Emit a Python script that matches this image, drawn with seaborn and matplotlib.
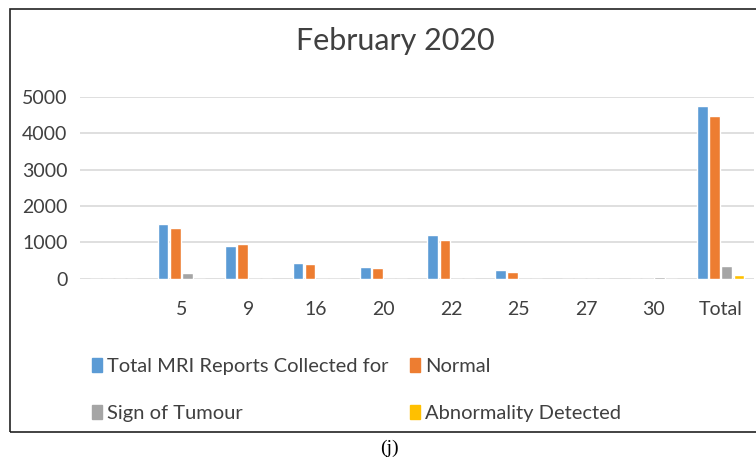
import pandas as pd
import numpy as np
import matplotlib.pyplot as plt
import seaborn as sns
from matplotlib.patches import Rectangle, Patch

## Data
days = ["", "5", "9", "16", "20", "22", "25", "27", "30", "Total"]
total_mri = [0, 1500, 890, 450, 330, 1200, 240, 0, 0, 4750]
normal = [0, 1400, 960, 420, 290, 1080, 200, 0, 0, 4480]
tumour = [0, 160, 0, 0, 0, 0, 0, 0, 50, 350]
abnormal = [0, 0, 0, 0, 0, 0, 0, 0, 0, 110]

series = ["Total MRI Reports Collected for", "Normal", "Sign of Tumour", "Abnormality Detected"]
colors = ["#5B9BD5", "#ED7D31", "#A5A5A5", "#FFC000"]

data = pd.DataFrame({
    "day": days * 4,
    "series": np.repeat(series, len(days)),
    "count": total_mri + normal + tumour + abnormal,
})

sns.set_theme(style="white")
plt.rcParams["font.family"] = ["Lato", "DejaVu Sans"]

fig = plt.figure(figsize=(7.56, 4.61), dpi=100)
ax = fig.add_axes([0.106, 0.395, 0.892, 0.395])

sns.barplot(data=data, x="day", y="count", hue="series", order=days,
            hue_order=series, palette=colors, saturation=1, width=0.72, gap=0.12,
            ax=ax, legend=False)

ax.set_ylim(0, 5000)
ax.set_yticks([0, 1000, 2000, 3000, 4000, 5000])
ax.set_xlim(-0.5, len(days) - 0.5)
ax.yaxis.grid(True, color="#D9D9D9", linewidth=1.2)
ax.set_axisbelow(True)
for s in ax.spines.values():
    s.set_visible(False)
ax.set_xlabel("")
ax.set_ylabel("")
ax.tick_params(axis="x", length=0, pad=16, labelsize=14, labelcolor="#404040")
ax.tick_params(axis="y", length=0, pad=9, labelsize=14, labelcolor="#404040")

fig.text(0.523, 0.91, "February 2020", ha="center", va="center",
         fontsize=22, color="#404040")

# legend: row 1 Total / Normal, row 2 Tumour / Abnormality
handles = [Patch(color=c) for c in colors]
order = [0, 2, 1, 3]
fig.legend([handles[i] for i in order], [series[i] for i in order],
           ncol=2, loc="upper left", bbox_to_anchor=(0.098, 0.262),
           frameon=False, fontsize=14.5, handlelength=0.5, handleheight=0.7,
           handletextpad=0.25, labelspacing=1.45, columnspacing=1.05,
           labelcolor="#404040")

# outer chart border
fig.add_artist(Rectangle((0.013, 0.063), 0.99, 0.918, transform=fig.transFigure,
                         fill=False, edgecolor="#222222", linewidth=1.2))

fig.text(0.515, 0.028, "(j)", ha="center", va="center", fontsize=14,
         family="Liberation Serif", color="black")

fig.savefig("out.png", dpi=100)
